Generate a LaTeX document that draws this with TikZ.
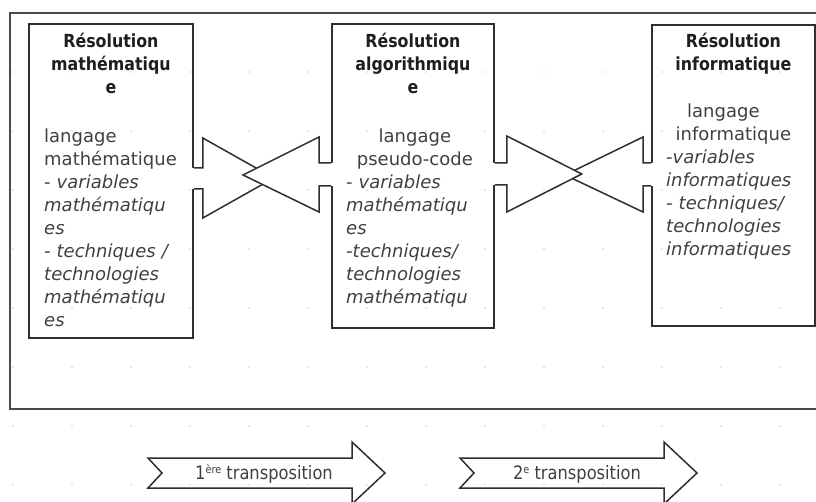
\documentclass[tikz,border=0pt]{standalone}
\usepackage{fontspec}
\setmainfont{DejaVu Sans}
\newfontfamily\condfont[FakeStretch=0.88]{DejaVu Sans}
\usetikzlibrary{calc}
\definecolor{framec}{HTML}{4A4A4A}
\definecolor{boxc}{HTML}{2E2E2E}
\definecolor{titlec}{HTML}{1E1E1E}
\definecolor{bodyc}{HTML}{404040}
\definecolor{dotc}{HTML}{CFCFCF}
\begin{document}
\begin{tikzpicture}[x=1pt,y=-1pt,
  frame/.style={draw=framec,line width=1.8pt},
  boxnode/.style={draw=boxc,line width=1.8pt,inner sep=0pt,anchor=north west},
  titletext/.style={font=\condfont\bfseries\fontsize{18}{23}\selectfont,text=titlec,
    align=center,text width=160pt,inner sep=0pt,anchor=base},
  subtext/.style={font=\fontsize{18}{23}\selectfont,text=bodyc,
    align=center,text width=160pt,inner sep=0pt,anchor=base},
  bodytext/.style={font=\fontsize{18}{23}\selectfont,text=bodyc,
    align=left,text width=160pt,inner sep=0pt,anchor=base west},
  blockarrow/.style={draw=boxc,line width=1.5pt,line join=miter},
  transtext/.style={font=\condfont\fontsize{18.5}{20}\selectfont,text=bodyc,inner sep=0pt,anchor=base}
]
\useasboundingbox (0,0) rectangle (816,502);

% outer frame
\draw[frame] (10,13) rectangle (840,409);

% boxes
\node[boxnode,minimum width=164pt,minimum height=314pt] (b1) at (28,23) {};
\node[boxnode,minimum width=162pt,minimum height=304pt] (b2) at (331,23) {};
\node[boxnode,minimum width=163pt,minimum height=301pt] (b3) at (651,24) {};

% box 1 texts
\node[titletext] (t1) at ($(b1.north)+(0,24.3)$) {Résolution\\mathématiqu\\e};
\node[bodytext] (m1) at (44,142.3) {langage\\mathématique\\- \textit{variables}\\\textit{mathématiqu}\\\textit{es}\\\textit{- techniques /}\\\textit{technologies}\\\textit{mathématiqu}\\\textit{es}};

% box 2 texts
\node[titletext] (t2) at ($(b2.north)+(0,24.3)$) {Résolution\\algorithmiqu\\e};
\node[subtext] (s2) at ($(b2.north)+(2,119.3)$) {langage\\pseudo-code};
\node[bodytext] (m2) at (346,188.3) {- \textit{variables}\\\textit{mathématiqu}\\\textit{es}\\\textit{-techniques/}\\\textit{technologies}\\\textit{mathématiqu}};

% box 3 texts
\node[titletext] (t3) at ($(b3.north)+(0,23.3)$) {Résolution\\informatique};
\node[subtext] (s3) at ($(b3.north)+(0,93.3)$) {langage\kern20pt\\informatique};
\node[bodytext] (m3) at (666,163.3) {-\textit{variables}\\\textit{informatiques}\\\textit{- techniques/}\\\textit{technologies}\\\textit{informatiques}};

% arrow A : box 1 -> right (drawn first, its tip hidden)
\coordinate (aA) at ($(b1.north east)+(0,145)$);
\fill[white] ($(aA)+(-2,0)$) -- ++(11,0) -- ++(0,-30) -- ++(71,40) -- ++(-71,40) -- ++(0,-29) -- ++(-11,0) -- cycle;
\draw[blockarrow] (aA) -- ++(9,0) -- ++(0,-30) -- ++(71,40) -- ++(-71,40) -- ++(0,-29) -- ++(-9,0);

% arrow B : box 2 -> left
\coordinate (aB) at ($(b2.north west)+(0,140)$);
\fill[white] ($(aB)+(2,0)$) -- ++(-14,0) -- ++(0,-26) -- ++(-76,38) -- ++(76,37) -- ++(0,-26) -- ++(14,0) -- cycle;
\draw[blockarrow] (aB) -- ++(-12,0) -- ++(0,-26) -- ++(-76,38) -- ++(76,37) -- ++(0,-26) -- ++(12,0);

% arrow D : box 3 -> left (drawn first, its tip hidden)
\coordinate (aD) at ($(b3.north west)+(0,139)$);
\fill[white] ($(aD)+(2,0)$) -- ++(-10,0) -- ++(0,-26) -- ++(-78,38) -- ++(78,37) -- ++(0,-26) -- ++(10,0) -- cycle;
\draw[blockarrow] (aD) -- ++(-8,0) -- ++(0,-26) -- ++(-78,38) -- ++(78,37) -- ++(0,-26) -- ++(8,0);

% arrow C : box 2 -> right
\coordinate (aC) at ($(b2.north east)+(0,140)$);
\fill[white] ($(aC)+(-2,0)$) -- ++(14,0) -- ++(0,-27) -- ++(75,38) -- ++(-75,38) -- ++(0,-27) -- ++(-14,0) -- cycle;
\draw[blockarrow] (aC) -- ++(12,0) -- ++(0,-27) -- ++(75,38) -- ++(-75,38) -- ++(0,-27) -- ++(-12,0);

% transposition arrows
\draw[blockarrow,fill=white] (148,458) -- (352,458) -- (352,442) -- (385,473) -- (352,504) -- (352,488) -- (148,488) -- (162,473) -- cycle;
\node[transtext] (tr1) at (264,479.5) {1\raisebox{6.5pt}{\fontsize{11}{11}\selectfont ère} transposition};
\draw[blockarrow,fill=white] (460,458) -- (664,458) -- (664,442) -- (697,473) -- (664,504) -- (664,488) -- (460,488) -- (474,473) -- cycle;
\node[transtext] (tr2) at (577,479.5) {2\raisebox{6.5pt}{\fontsize{11}{11}\selectfont e} transposition};

% faint grid dots
\foreach \i in {0,...,13} {
  \foreach \j in {1,...,8} {
    \fill[dotc] (13+59*\i,13+59*\j) circle (0.9pt);
  }
}
\end{tikzpicture}
\end{document}
